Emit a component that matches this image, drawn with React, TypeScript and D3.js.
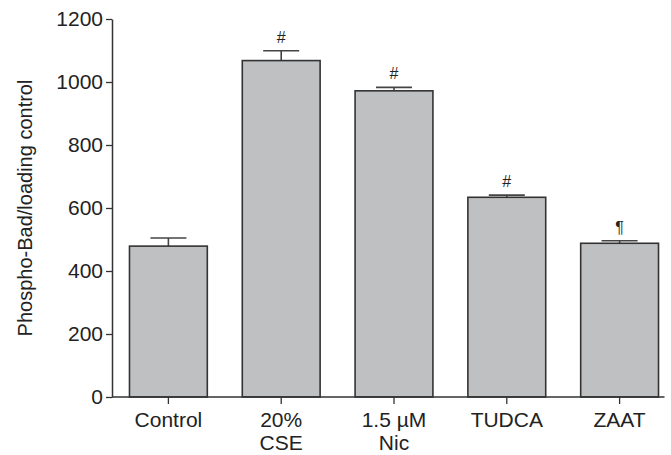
import React, { useRef, useEffect } from "react";
import * as d3 from "d3";

// values
const categories = ["Control", "20% CSE", "1.5 µM Nic", "TUDCA", "ZAAT"];
const tickLines = [["Control"], ["20%", "CSE"], ["1.5 µM", "Nic"], ["TUDCA"], ["ZAAT"]];
const means = [479, 1068, 972, 634, 488];
const errors = [26, 31, 11, 7, 8];
const marks = ["", "#", "#", "#", "¶"];
const yTicks = [0, 200, 400, 600, 800, 1000, 1200];

const W = 671;
const H = 455;
const FONT = "'Liberation Sans', Arial, sans-serif";

const App = () => {
  const ref = useRef<SVGSVGElement>(null);

  useEffect(() => {
    if (!ref.current) return;
    const svg = d3.select(ref.current);
    svg.selectAll("*").remove();

    const x = d3.scaleBand<string>()
      .domain(categories)
      .range([112, 676])
      .paddingInner(0.31)
      .paddingOuter(0.155);

    const y = d3.scaleLinear().domain([0, 1200]).range([397, 19]);

    const data = categories.map((c, i) => ({ c, v: means[i], e: errors[i], m: marks[i], lines: tickLines[i] }));

    // error bars first, bar covers the lower half
    const capW = 36;
    const eb = svg.append("g").attr("stroke", "#444").attr("stroke-width", 1.6);
    data.forEach((d) => {
      const cx = x(d.c)! + x.bandwidth() / 2;
      eb.append("line").attr("x1", cx).attr("x2", cx).attr("y1", y(d.v)).attr("y2", y(d.v + d.e));
      eb.append("line").attr("x1", cx - capW / 2).attr("x2", cx + capW / 2).attr("y1", y(d.v + d.e)).attr("y2", y(d.v + d.e));
    });

    svg.append("g")
      .selectAll("rect")
      .data(data)
      .enter().append("rect")
      .attr("x", (d) => x(d.c)!)
      .attr("y", (d) => y(d.v))
      .attr("width", x.bandwidth())
      .attr("height", (d) => y(0) - y(d.v))
      .attr("fill", "#bfc0c2")
      .attr("stroke", "#333")
      .attr("stroke-width", 1.6);

    // significance marks
    svg.append("g")
      .selectAll("text")
      .data(data)
      .enter().append("text")
      .attr("x", (d) => x(d.c)! + x.bandwidth() / 2)
      .attr("y", (d) => y(d.v + d.e) - 8)
      .attr("text-anchor", "middle")
      .style("font-family", FONT)
      .style("font-size", "16px")
      .style("fill", "#222")
      .text((d) => d.m);

    // y axis
    const yAxis = svg.append("g")
      .attr("transform", "translate(112,0)")
      .call(d3.axisLeft(y).tickValues(yTicks).tickFormat(d3.format("d")).tickSize(6).tickPadding(3).tickSizeOuter(0));
    yAxis.select(".domain").attr("stroke", "#333").attr("stroke-width", 1.5);
    yAxis.selectAll(".tick line").attr("stroke", "#333").attr("stroke-width", 1.3);
    yAxis.selectAll(".tick text")
      .style("font-family", FONT)
      .style("font-size", "21px")
      .style("fill", "#222");

    // x axis
    const xAxis = svg.append("g")
      .attr("transform", "translate(0,397)")
      .call(d3.axisBottom(x).tickSize(7).tickSizeOuter(0).tickFormat(() => ""));
    xAxis.select(".domain").remove();
    xAxis.selectAll(".tick line").attr("stroke", "#333").attr("stroke-width", 1.3);
    const lastX = x(categories[categories.length - 1])! + x.bandwidth() + 6;
    svg.append("line")
      .attr("x1", 112).attr("x2", lastX)
      .attr("y1", 397).attr("y2", 397)
      .attr("stroke", "#333").attr("stroke-width", 1.5);

    const xl = svg.append("g");
    data.forEach((d) => {
      const t = xl.append("text")
        .attr("x", x(d.c)! + x.bandwidth() / 2)
        .attr("y", 427)
        .attr("text-anchor", "middle")
        .style("font-family", FONT)
        .style("font-size", "21px")
        .style("fill", "#222");
      d.lines.forEach((ln, j) => {
        t.append("tspan")
          .attr("x", x(d.c)! + x.bandwidth() / 2)
          .attr("dy", j === 0 ? 0 : 23)
          .text(ln);
      });
    });

    // y title
    svg.append("text")
      .attr("transform", "translate(32,208) rotate(-90)")
      .attr("text-anchor", "middle")
      .style("font-family", FONT)
      .style("font-size", "20px")
      .style("fill", "#222")
      .text("Phospho-Bad/loading control");
  }, []);

  return (
    <svg
      ref={ref}
      width={W}
      height={H}
      style={{ position: "absolute", left: 0, top: 0, background: "#fff" }}
    ></svg>
  );
};

export default App;
